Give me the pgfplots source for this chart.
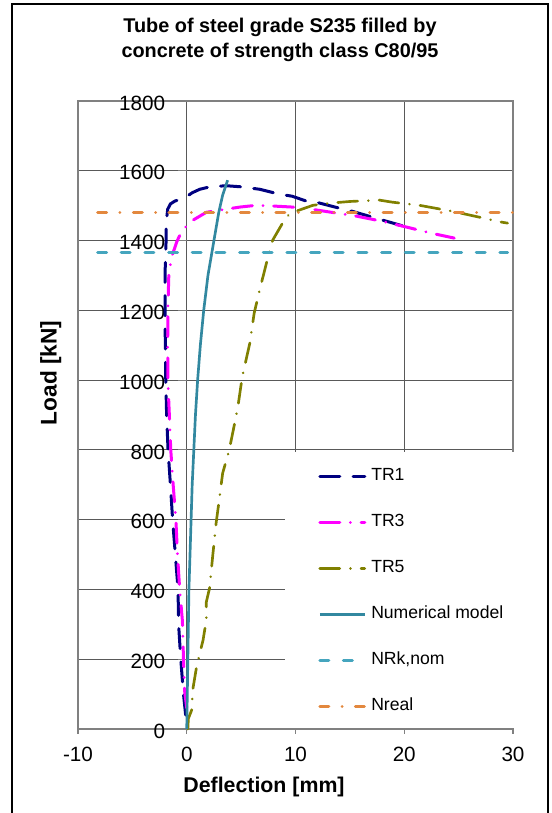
\documentclass[border=0pt]{standalone}
\usepackage{fontspec}
\setmainfont{Liberation Sans}
\usepackage{pgfplots}
\pgfplotsset{compat=1.18}
\definecolor{tra}{HTML}{000080}
\definecolor{trb}{HTML}{FF00FF}
\definecolor{trc}{HTML}{808000}
\definecolor{num}{HTML}{3288A0}
\definecolor{nrk}{HTML}{45A5BE}
\definecolor{nre}{HTML}{E3883E}
\begin{document}
\begin{tikzpicture}
\path[use as bounding box] (0,0) rectangle (413.25pt,609.75pt);
\draw[line width=1.5pt] (9pt,-2pt) -- (9pt,606.75pt) -- (411pt,606.75pt) -- (411pt,-2pt);
\node[anchor=base, font=\bfseries\fontsize{14.9}{17}\selectfont] at (210pt,585pt) {Tube of steel grade S235 filled by};
\node[anchor=base, font=\bfseries\fontsize{14.9}{17}\selectfont] at (210pt,566.25pt) {concrete of strength class C80/95};
\node[anchor=base, font=\bfseries\fontsize{16}{18}\selectfont] at (198pt,15pt) {Deflection [mm]};
\node[anchor=base, rotate=90, font=\bfseries\fontsize{17}{19}\selectfont] at (42.5pt,330pt) {Load [kN]};
\begin{axis}[
  at={(58.5pt,63pt)}, anchor=south west, scale only axis,
  width=326.25pt, height=471pt,
  xmin=-10, xmax=30, ymin=0, ymax=1800,
  xtick={-10,0,10,20,30}, ytick={0,200,...,1800},
  xticklabels={}, yticklabels={},
  grid=major, major grid style={black!65, line width=0.6pt},
  axis line style={gray, line width=1pt},
  tick align=outside, xtick pos=left, ytick pos=left,
  ytick style={draw=none}, xtick style={gray, line width=0.8pt},
  major tick length=3.75pt,
  clip=false,
  legend cell align=left,
  legend image code/.code={\draw[#1] (0pt,0pt) -- (33.75pt,0pt);},
  legend style={at={(axis description cs:0.5517,0.4167)}, anchor=north west,
    draw=none, fill=none, inner sep=0pt, row sep=21.5pt, column sep=3.75pt,
    font=\fontsize{13.2}{15}\selectfont,
    nodes={inner sep=0pt, text height=10pt, text depth=3pt}},
]
\fill[white] (axis cs:9,4) rectangle (axis cs:30.35,794);
\pgfplotsinvokeforeach{0,200,...,1800}{
  \node[anchor=base east, font=\fontsize{15.5}{17}\selectfont, xshift=-12.75pt, yshift=-6.9pt] at (axis cs:0,#1) {#1};
  \draw[gray, line width=0.8pt] (axis cs:0,#1) -- ++(-6.75pt,0pt);
}
\pgfplotsinvokeforeach{-10,0,10,20,30}{
  \node[anchor=base, font=\fontsize{15.5}{17}\selectfont, yshift=-24pt] at (axis cs:#1,0) {#1};
}
\addplot[tra, line width=2.25pt, line cap=round, dash pattern=on 15pt off 10pt] coordinates {
(-0.1,40) (-0.3,100) (-0.55,200) (-0.75,300) (-0.8,400) (-1.05,500) (-1.3,600) (-1.5,700) (-1.72,800) (-1.85,900) (-1.93,1000) (-1.97,1100) (-2.0,1200) (-2.0,1300) (-1.9,1400) (-1.9,1450) (-1.75,1490) (-1.5,1505) (-1.1,1513) (-0.1,1524) (0.5,1537) (1.2,1547) (2.0,1553) (3.0,1556) (3.7,1557) (5.0,1554) (6.7,1547) (8.5,1533) (9.7,1527) (11.0,1513) (11.9,1510) (13.5,1497) (15.2,1484) (17.4,1464) (20.3,1438)
};
\addlegendentry{TR1}
\addplot[trb, line width=2.25pt, line cap=round, dash pattern=on 15pt off 8pt on 0.01pt off 8pt] coordinates {
(0,60) (-0.2,110) (-0.3,200) (-0.4,310) (-0.65,400) (-0.85,500) (-1.0,600) (-1.25,700) (-1.47,800) (-1.6,900) (-1.74,1000) (-1.75,1100) (-1.74,1200) (-1.65,1300) (-1.4,1352) (-0.9,1398) (-0.4,1430) (0.55,1458) (1.8,1481) (3.0,1487) (4.9,1496) (6.4,1501) (7.9,1499) (9.7,1496) (11.0,1492) (13.3,1481) (15.6,1470) (18.0,1455) (20.3,1438) (22.5,1421) (24.6,1407)
};
\addlegendentry{TR3}
\addplot[trc, line width=2pt, line cap=round, dash pattern=on 15pt off 8pt on 0.01pt off 8pt] coordinates {
(0.1,0) (0.15,30) (0.45,54) (0.55,112) (0.9,178) (1.5,255) (1.8,312) (1.8,364) (2.1,404) (2.4,500) (2.7,590) (3.0,660) (3.3,733) (3.9,799) (4.3,860) (4.7,923) (5.1,1009) (5.8,1106) (6.2,1192) (6.7,1258) (7.4,1344) (7.9,1401) (8.7,1444) (9.0,1460) (9.5,1478) (11.6,1501) (13.1,1507) (15.0,1512) (17.7,1516) (18.9,1510) (21.4,1501) (24.4,1484) (26.9,1467) (28.9,1453) (29.5,1450)
};
\addlegendentry{TR5}
\addplot[num, line width=2pt] coordinates {
(0,0) (0.05,100) (0.1,200) (0.15,300) (0.2,400) (0.3,500) (0.4,600) (0.5,700) (0.65,800) (0.8,900) (1.0,1000) (1.25,1100) (1.56,1200) (1.95,1300) (2.5,1400) (2.94,1480) (3.3,1530) (3.76,1573)
};
\addlegendentry{Numerical model}
\addplot[nrk, line width=2.25pt, line cap=round, dash pattern=on 6.75pt off 11pt] coordinates {
(-8.2,1365) (29.5,1365)
};
\addlegendentry{NRk,nom}
\addplot[nre, line width=2.25pt, line cap=round, dash pattern=on 6.75pt off 10pt on 0.01pt off 10pt] coordinates {
(-8.2,1481) (30,1481)
};
\addlegendentry{Nreal}
\end{axis}
\end{tikzpicture}
\end{document}
